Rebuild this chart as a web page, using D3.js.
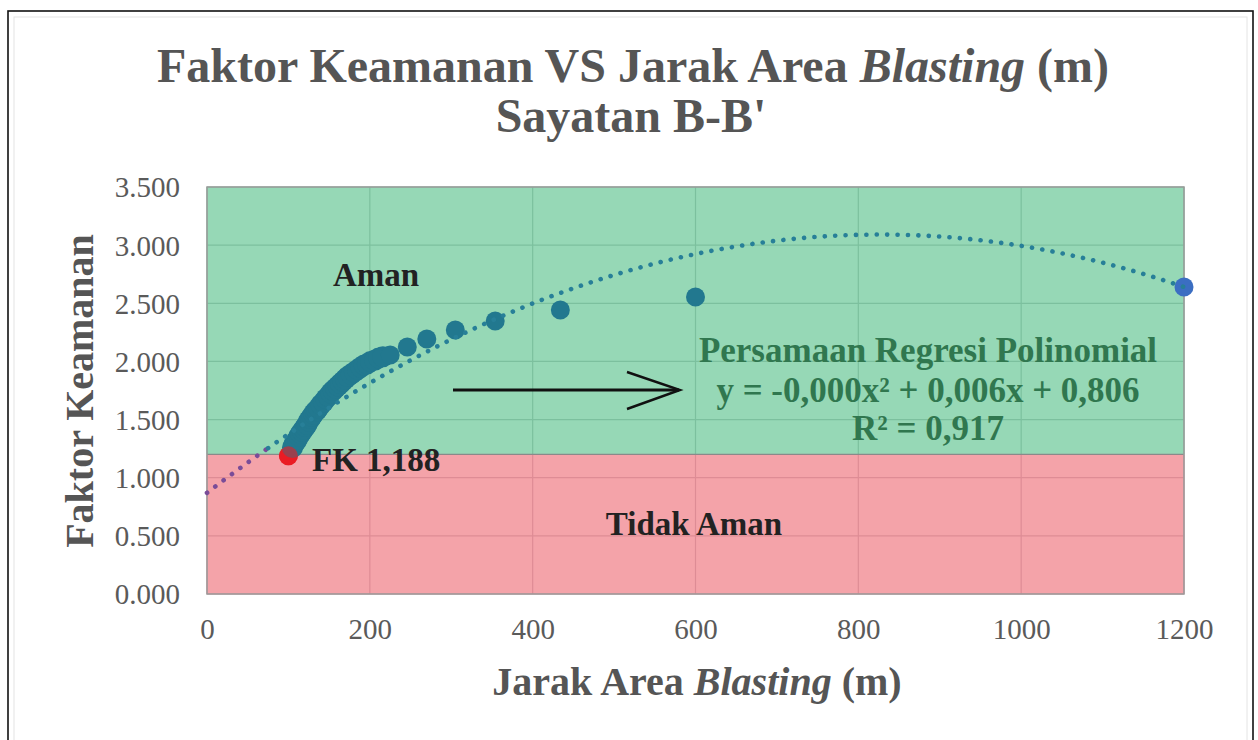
<!DOCTYPE html>
<html>
<head>
<meta charset="utf-8">
<script src="https://cdn.jsdelivr.net/npm/d3@7"></script>
<style>
  html, body { margin: 0; padding: 0; background: #ffffff; }
  svg { display: block; }
  text { font-family: "Liberation Serif", "Times New Roman", serif; }
</style>
</head>
<body>
<svg id="chart" width="1258" height="740"></svg>
<script>
// ---------- data ----------
const titleLines = ["Faktor Keamanan VS Jarak Area ", "Sayatan B-B'"];
const xTicks = [0, 200, 400, 600, 800, 1000, 1200];
const yTicks = [0, 0.5, 1.0, 1.5, 2.0, 2.5, 3.0, 3.5];
const safeThreshold = 1.2;           // FK boundary between "Aman" and "Tidak Aman"
const xDomain = [0, 1200];
const yDomain = [0, 3.5];

// dense cluster of FK values (teal series)
const jarakDense = [105,107,109,111,113,115,117,119,121,123,125,127,129,131,133,135,137,140,143,146,149,152,155,158,161,164,167,170,173,177,181,185,189,193,197,201,206,211,216];
const fkDense    = [1.26,1.29,1.31,1.33,1.36,1.38,1.40,1.42,1.44,1.46,1.49,1.51,1.53,1.55,1.57,1.58,1.60,1.63,1.65,1.68,1.70,1.73,1.75,1.77,1.79,1.81,1.83,1.85,1.87,1.89,1.91,1.93,1.95,1.97,1.98,2.00,2.01,2.03,2.04];
// discrete points (teal series)
const jarakSparse = [225, 246, 270, 305, 354, 434, 600];
const fkSparse    = [2.055, 2.124, 2.193, 2.270, 2.347, 2.442, 2.554];
// last point (blue)
const jarakFar = [1200];
const fkFar    = [2.64];
// critical point (red)
const jarakCrit = [100];
const fkCrit    = [1.188];

// polynomial trendline coefficients: c0 + c1 x + c2 x^2
const trendCoef = [0.87, 0.00537, -0.000003246];
const regressionText = ["Persamaan Regresi Polinomial", "y = -0,000x² + 0,006x + 0,806", "R² = 0,917"];

// ---------- drawing ----------
const svg = d3.select("#chart");
const x = d3.scaleLinear().domain(xDomain).range([207, 1184]);
const y = d3.scaleLinear().domain(yDomain).range([594, 187]);

// outer frame
svg.append("rect").attr("x", 8).attr("y", 11).attr("width", 1245).attr("height", 740)
  .attr("fill", "#fff").attr("stroke", "#111").attr("stroke-width", 1.6);
svg.append("rect").attr("x", 14).attr("y", 17).attr("width", 1233).attr("height", 740)
  .attr("fill", "none").attr("stroke", "#e4e4e4").attr("stroke-width", 1);

// regions
svg.append("rect")
  .attr("x", x(xDomain[0])).attr("y", y(yDomain[1]))
  .attr("width", x(xDomain[1]) - x(xDomain[0]))
  .attr("height", y(safeThreshold) - y(yDomain[1]))
  .attr("fill", "#96d8b6");
svg.append("rect")
  .attr("x", x(xDomain[0])).attr("y", y(safeThreshold))
  .attr("width", x(xDomain[1]) - x(xDomain[0]))
  .attr("height", y(yDomain[0]) - y(safeThreshold))
  .attr("fill", "#f4a3a9");

// gridlines
const grid = svg.append("g");
xTicks.forEach(t => {
  grid.append("line").attr("x1", x(t)).attr("x2", x(t))
    .attr("y1", y(yDomain[1])).attr("y2", y(safeThreshold))
    .attr("stroke", "#7cc09e").attr("stroke-width", 1.2);
  grid.append("line").attr("x1", x(t)).attr("x2", x(t))
    .attr("y1", y(safeThreshold)).attr("y2", y(yDomain[0]))
    .attr("stroke", "#de8c95").attr("stroke-width", 1.2);
});
yTicks.forEach(t => {
  grid.append("line").attr("x1", x(xDomain[0])).attr("x2", x(xDomain[1]))
    .attr("y1", y(t)).attr("y2", y(t))
    .attr("stroke", t >= safeThreshold ? "#7cc09e" : "#de8c95").attr("stroke-width", 1.2);
});
svg.append("line").attr("x1", x(xDomain[0])).attr("x2", x(xDomain[1]))
  .attr("y1", y(safeThreshold)).attr("y2", y(safeThreshold))
  .attr("stroke", "#8a8a8a").attr("stroke-width", 1.2);
svg.append("rect")
  .attr("x", x(xDomain[0])).attr("y", y(yDomain[1]))
  .attr("width", x(xDomain[1]) - x(xDomain[0]))
  .attr("height", y(yDomain[0]) - y(yDomain[1]))
  .attr("fill", "none").attr("stroke", "#9a9a9a").attr("stroke-width", 1.5);

// axes (labels only)
const fmtY = d3.format(".3f");
const xAxis = d3.axisBottom(x).tickValues(xTicks).tickSize(0).tickPadding(24).tickFormat(d3.format("d"));
const yAxis = d3.axisLeft(y).tickValues(yTicks).tickSize(0).tickPadding(27).tickFormat(fmtY);
const gx = svg.append("g").attr("transform", `translate(0,${y(0)})`).call(xAxis);
const gy = svg.append("g").attr("transform", `translate(${x(0)},0)`).call(yAxis);
[gx, gy].forEach(g => {
  g.select(".domain").remove();
  g.selectAll("text").attr("font-family", "Liberation Serif, Times New Roman, serif")
    .attr("font-size", 29).attr("fill", "#5a5a5a");
});
gy.selectAll("text").attr("dy", "0.34em");

// data points
const teal = "#22788f";
const r = 9.5;
const dense = jarakDense.map((d, i) => ({ x: d, y: fkDense[i] }));
const sparse = jarakSparse.map((d, i) => ({ x: d, y: fkSparse[i] }));
const far = jarakFar.map((d, i) => ({ x: d, y: fkFar[i] }));
const crit = jarakCrit.map((d, i) => ({ x: d, y: fkCrit[i] }));

// critical point (under the teal series, partly covered)
svg.append("g").selectAll("circle").data(crit).join("circle")
  .attr("cx", d => x(d.x)).attr("cy", d => y(d.y)).attr("r", r).attr("fill", "#ea1c24");

svg.append("g").selectAll("circle").data(dense).join("circle")
  .attr("cx", d => x(d.x)).attr("cy", d => y(d.y)).attr("r", 10.5).attr("fill", teal);
svg.append("g").selectAll("circle").data(sparse).join("circle")
  .attr("cx", d => x(d.x)).attr("cy", d => y(d.y)).attr("r", r).attr("fill", teal);
svg.append("g").selectAll("circle").data(far).join("circle")
  .attr("cx", d => x(d.x)).attr("cy", d => y(d.y)).attr("r", r).attr("fill", "#3b6ec2");

// red point partly re-drawn translucent so the overlap looks brownish
svg.append("g").selectAll("circle").data(crit).join("circle")
  .attr("cx", d => x(d.x)).attr("cy", d => y(d.y)).attr("r", r).attr("fill", "#ea1c24").attr("fill-opacity", 0.6);

// trendline (dotted)
const trend = v => trendCoef[0] + trendCoef[1] * v + trendCoef[2] * v * v;
const line = d3.line().x(d => x(d)).y(d => y(trend(d))).curve(d3.curveBasis);
const split = 75;
svg.append("path").datum(d3.range(0, split + 0.1, 2.5))
  .attr("d", line).attr("fill", "none").attr("stroke", "#7a4c98")
  .attr("stroke-width", 4.6).attr("stroke-linecap", "round").attr("stroke-dasharray", "0.1 10.3");
svg.append("path").datum(d3.range(split, xDomain[1] + 0.1, 2.5))
  .attr("d", line).attr("fill", "none").attr("stroke", "#277f98")
  .attr("stroke-width", 4.6).attr("stroke-linecap", "round").attr("stroke-dasharray", "0.1 10.3");

// annotations
svg.append("text").attr("x", 376).attr("y", 286).attr("text-anchor", "middle")
  .attr("font-size", 33).attr("font-weight", "bold").attr("fill", "#222").text("Aman");
svg.append("text").attr("x", 694).attr("y", 535).attr("text-anchor", "middle")
  .attr("font-size", 33).attr("font-weight", "bold").attr("fill", "#222").text("Tidak Aman");
svg.append("text").attr("x", 312).attr("y", 471)
  .attr("font-size", 33).attr("font-weight", "bold").attr("fill", "#222")
  .text("FK " + d3.format(".3f")(fkCrit[0]).replace(".", ","));

// arrow
svg.append("line").attr("x1", 453).attr("y1", 390).attr("x2", 679).attr("y2", 390)
  .attr("stroke", "#111").attr("stroke-width", 3);
svg.append("path").attr("d", "M627,372 L680,390 L627,409").attr("fill", "none")
  .attr("stroke", "#111").attr("stroke-width", 2.4);

// regression text
const regY = [362, 402, 440];
regressionText.forEach((t, i) => {
  svg.append("text").attr("x", 928).attr("y", regY[i]).attr("text-anchor", "middle")
    .attr("font-size", 35).attr("font-weight", "bold").attr("fill", "#30774f").text(t);
});

// title
const t1 = svg.append("text").attr("x", 633).attr("y", 82).attr("text-anchor", "middle")
  .attr("font-size", 48).attr("font-weight", "bold").attr("fill", "#555");
t1.append("tspan").text(titleLines[0]);
t1.append("tspan").attr("font-style", "italic").text("Blasting");
t1.append("tspan").text(" (m)");
svg.append("text").attr("x", 631).attr("y", 132).attr("text-anchor", "middle")
  .attr("font-size", 48).attr("font-weight", "bold").attr("fill", "#555").text(titleLines[1]);

// axis titles
const xt = svg.append("text").attr("x", 697).attr("y", 695).attr("text-anchor", "middle")
  .attr("font-size", 40).attr("font-weight", "bold").attr("fill", "#555");
xt.append("tspan").text("Jarak Area ");
xt.append("tspan").attr("font-style", "italic").text("Blasting");
xt.append("tspan").text(" (m)");
svg.append("text").attr("transform", "translate(93,391) rotate(-90)").attr("text-anchor", "middle")
  .attr("font-size", 40).attr("font-weight", "bold").attr("fill", "#555").text("Faktor Keamanan");
</script>
</body>
</html>
